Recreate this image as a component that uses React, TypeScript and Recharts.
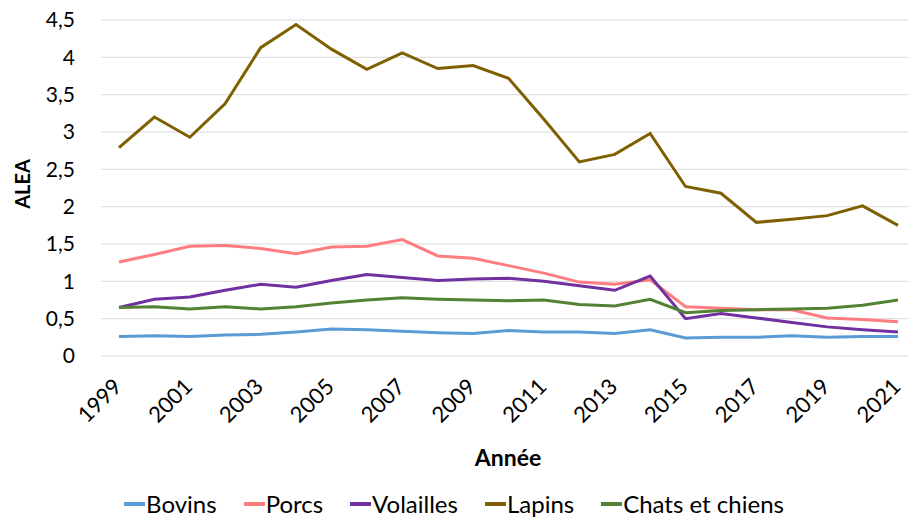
import { CartesianGrid, Legend, Line, LineChart, XAxis, YAxis } from "recharts"

const years = [
  1999, 2000, 2001, 2002, 2003, 2004, 2005, 2006, 2007, 2008, 2009, 2010,
  2011, 2012, 2013, 2014, 2015, 2016, 2017, 2018, 2019, 2020, 2021,
]

const bovins = [
  0.26, 0.27, 0.26, 0.28, 0.29, 0.32, 0.36, 0.35, 0.33, 0.31, 0.3, 0.34,
  0.32, 0.32, 0.3, 0.35, 0.24, 0.25, 0.25, 0.27, 0.25, 0.26, 0.26,
]
const porcs = [
  1.26, 1.36, 1.47, 1.48, 1.44, 1.37, 1.46, 1.47, 1.56, 1.34, 1.31, 1.21,
  1.11, 0.99, 0.96, 1.02, 0.66, 0.64, 0.62, 0.62, 0.51, 0.49, 0.46,
]
const volailles = [
  0.65, 0.76, 0.79, 0.88, 0.96, 0.92, 1.01, 1.09, 1.05, 1.01, 1.03, 1.04,
  1.0, 0.94, 0.88, 1.07, 0.5, 0.57, 0.51, 0.45, 0.39, 0.35, 0.32,
]
const lapins = [
  2.79, 3.2, 2.93, 3.38, 4.13, 4.44, 4.11, 3.84, 4.06, 3.85, 3.89, 3.72,
  3.17, 2.6, 2.7, 2.98, 2.27, 2.18, 1.79, 1.83, 1.88, 2.01, 1.75,
]
const chatsChiens = [
  0.65, 0.66, 0.63, 0.66, 0.63, 0.66, 0.71, 0.75, 0.78, 0.76, 0.75, 0.74,
  0.75, 0.69, 0.67, 0.76, 0.58, 0.61, 0.62, 0.63, 0.64, 0.68, 0.75,
]

const yTicks = [0, 0.5, 1, 1.5, 2, 2.5, 3, 3.5, 4, 4.5]

const series = [
  { key: "bovins", name: "Bovins", color: "#5B9BD5" },
  { key: "porcs", name: "Porcs", color: "#FF7C80" },
  { key: "volailles", name: "Volailles", color: "#7030A0" },
  { key: "lapins", name: "Lapins", color: "#7F6000" },
  { key: "chats", name: "Chats et chiens", color: "#548235" },
]

const data = years.map((year, i) => ({
  year: String(year),
  bovins: bovins[i],
  porcs: porcs[i],
  volailles: volailles[i],
  lapins: lapins[i],
  chats: chatsChiens[i],
}))

const FONT = "Lato, 'Open Sans', sans-serif"

function YearTick({ x, y, payload }: any) {
  return (
    <g transform={`translate(${x + 4},${y + 24})`}>
      <text x={0} y={0} textAnchor="end" transform="rotate(-45)" fontSize={22} fill="#000" fontFamily={FONT}>
        {payload.value}
      </text>
    </g>
  )
}

function YTitle({ viewBox }: any) {
  const cy = viewBox.y + viewBox.height / 2 - 4
  return (
    <text x={22} y={cy} transform={`rotate(-90, 22, ${cy})`} textAnchor="middle" dominantBaseline="central"
      fontSize={20} fontWeight="bold" fill="#000" fontFamily={FONT}>
      ALEA
    </text>
  )
}

function XTitle() {
  return (
    <text x={508} y={466} textAnchor="middle" fontSize={23} fontWeight="bold" fill="#000" fontFamily={FONT}>
      Année
    </text>
  )
}

function LegendBox() {
  return (
    <div style={{ display: "flex", justifyContent: "center", gap: 27, fontFamily: FONT, fontSize: 24, color: "#000" }}>
      {series.map((s) => (
        <span key={s.key} style={{ display: "flex", alignItems: "center" }}>
          <span style={{ display: "inline-block", width: 21, height: 4, background: s.color, marginRight: 1 }} />
          {s.name}
        </span>
      ))}
    </div>
  )
}

export default function App() {
  return (
    <div style={{ position: "absolute", left: 0, top: 0, width: 908, height: 519, background: "#fff" }}>
      <LineChart width={908} height={519} data={data} margin={{ top: 20, right: 0, bottom: 51, left: 0 }}>
        <CartesianGrid vertical={false} stroke="#D9D9D9" strokeWidth={1} />
        <XAxis
          dataKey="year"
          interval={1}
          tickLine={false}
          axisLine={false}
          height={112}
          padding={{ left: 18, right: 10 }}
          tick={<YearTick />}
          label={<XTitle />}
        />
        <YAxis
          domain={[0, 4.5]}
          ticks={yTicks}
          tickFormatter={(v: number) => String(v).replace(".", ",")}
          tickLine={false}
          axisLine={false}
          width={101}
          tickMargin={20}
          tick={{ fontSize: 21, fill: "#000", fontFamily: FONT }}
          label={<YTitle />}
        />
        <Legend
          verticalAlign="middle"
          align="center"
          layout="horizontal"
          wrapperStyle={{ top: 489, left: 0, width: 908 }}
          content={<LegendBox />}
        />
        {series.map((s) => (
          <Line
            key={s.key}
            type="linear"
            dataKey={s.key}
            name={s.name}
            stroke={s.color}
            strokeWidth={3}
            dot={false}
            isAnimationActive={false}
          />
        ))}
      </LineChart>
    </div>
  )
}
